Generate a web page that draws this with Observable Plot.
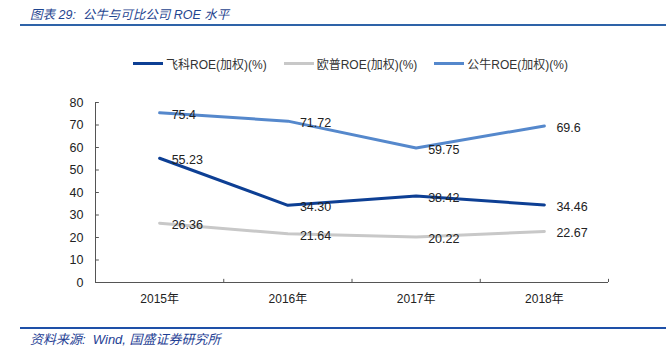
<!DOCTYPE html>
<html>
<head>
<meta charset="utf-8">
<script src="https://cdn.jsdelivr.net/npm/d3@7"></script>
<script src="https://cdn.jsdelivr.net/npm/@observablehq/plot@0.6"></script>
<style>
  body { margin: 0; background: #fff; }
  #wrap { position: relative; width: 666px; height: 355px; overflow: hidden; font-family: "Liberation Sans", "Noto Sans CJK SC", sans-serif; }
  #chart { position: absolute; left: 0; top: 0; }
  .title { position: absolute; left: 30px; top: 4px; font-size: 12.5px; font-style: italic; color: #1F4590; font-family: "Liberation Sans", "Noto Sans CJK SC", sans-serif; white-space: nowrap; }
  .hline { position: absolute; left: 20px; right: 0; top: 24px; height: 2px; background: #2E63A8; }
  .fline { position: absolute; left: 20px; right: 0; top: 327px; height: 2px; background: #1E50A8; }
  .source { position: absolute; left: 30px; top: 329px; font-size: 13px; font-style: italic; color: #1F3F95; white-space: nowrap; }
  .legend { position: absolute; top: 55px; left: 133px; display: flex; font-size: 12px; color: #333; white-space: nowrap; }
  .item { display: flex; align-items: center; margin-right: 17px; }
  .sw { width: 30px; height: 3px; margin-right: 3px; }
</style>
</head>
<body>
<div id="wrap">
  <div class="title">图表 29:&nbsp; 公牛与可比公司 ROE 水平</div>
  <div class="hline"></div>
  <div class="legend" id="legend"></div>
  <div id="chart"></div>
  <div class="fline"></div>
  <div class="source">资料来源:&nbsp; Wind, 国盛证券研究所</div>
</div>
<script>
const years = ["2015年", "2016年", "2017年", "2018年"];
const seriesNames = ["飞科ROE(加权)(%)", "欧普ROE(加权)(%)", "公牛ROE(加权)(%)"];
const feike = [55.23, 34.30, 38.42, 34.46];
const oupu = [26.36, 21.64, 20.22, 22.67];
const gongniu = [75.4, 71.72, 59.75, 69.6];
const labelText = [
  ["55.23", "34.30", "38.42", "34.46"],
  ["26.36", "21.64", "20.22", "22.67"],
  ["75.4", "71.72", "59.75", "69.6"]
];
const colors = ["#0D3F94", "#C8C8C8", "#5588CC"];
const yTicks = [0, 10, 20, 30, 40, 50, 60, 70, 80];

const values = [feike, oupu, gongniu];
const data = [];
values.forEach((arr, s) => arr.forEach((v, i) => data.push({
  series: seriesNames[s], idx: i + 0.5, value: v, label: labelText[s][i]
})));

const boundaries = d3.range(years.length + 1);
const centers = years.map((_, i) => i + 0.5);

const chart = Plot.plot({
  width: 666,
  height: 355,
  marginLeft: 95,
  marginRight: 58,
  marginTop: 102,
  marginBottom: 73,
  style: { fontFamily: "'Liberation Sans', 'Noto Sans CJK SC', sans-serif", fontSize: "12px", color: "#222", background: "transparent" },
  x: { type: "linear", domain: [0, years.length] },
  y: { domain: [0, 80] },
  color: { domain: seriesNames, range: colors },
  marks: [
    Plot.axisY({ ticks: yTicks, tickSize: 0, tickPadding: 12, fontSize: 12.5, fill: "#222", label: null }),
    Plot.axisX({ ticks: centers, tickFormat: d => years[Math.floor(d)], tickSize: 0, tickPadding: 12, fontSize: 12, fill: "#222", label: null }),
    Plot.ruleY([0], { stroke: "#555", strokeWidth: 1 }),
    Plot.ruleX([0], { stroke: "#555", strokeWidth: 1 }),
    Plot.ruleY(yTicks, { x1: 0, x2: 0.03, stroke: "#555" }),
    Plot.ruleX(boundaries.slice(1), { y1: 0, y2: 1.4, stroke: "#555" }),
    Plot.line(data, { x: "idx", y: "value", z: "series", stroke: "series", strokeWidth: 3, curve: "linear" }),
    Plot.text(data, { x: "idx", y: "value", text: "label", textAnchor: "start", dx: 12, dy: 2, fontSize: 12.5, fill: "#222" })
  ]
});
document.getElementById("chart").appendChild(chart);

const legend = document.getElementById("legend");
seriesNames.forEach((name, i) => {
  const item = document.createElement("div");
  item.className = "item";
  const sw = document.createElement("div");
  sw.className = "sw";
  sw.style.background = colors[i];
  const t = document.createElement("span");
  t.textContent = name;
  item.appendChild(sw);
  item.appendChild(t);
  legend.appendChild(item);
});
</script>
</body>
</html>
